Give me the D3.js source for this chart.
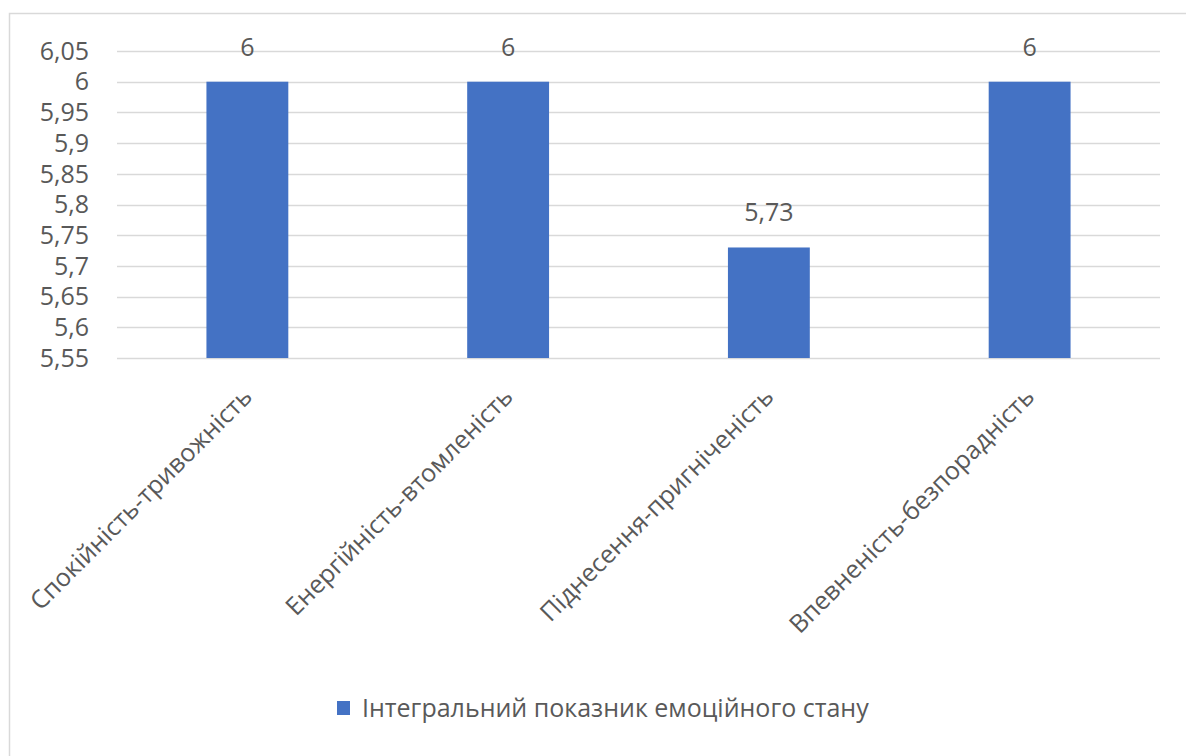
<!DOCTYPE html>
<html>
<head>
<meta charset="utf-8">
<script src="https://cdn.jsdelivr.net/npm/d3@7"></script>
<style>
  html, body { margin: 0; padding: 0; background: #fff; }
  svg { display: block; }
  text { font-family: "Open Sans", "Noto Sans", sans-serif; fill: #595959; }
</style>
</head>
<body>
<svg id="chart" width="1186" height="756"></svg>
<script>
// Emotional state scales and their integral indicator
const categories = [
  "Спокійність-тривожність",
  "Енергійність-втомленість",
  "Піднесення-пригніченість",
  "Впевненість-безпорадність"
];
const values = [6, 6, 5.73, 6];
const valueLabels = ["6", "6", "5,73", "6"];
const yTicks = [5.55, 5.6, 5.65, 5.7, 5.75, 5.8, 5.85, 5.9, 5.95, 6, 6.05];
const yTickLabels = ["5,55", "5,6", "5,65", "5,7", "5,75", "5,8", "5,85", "5,9", "5,95", "6", "6,05"];
const seriesName = "Інтегральний показник емоційного стану";

const svg = d3.select("#chart");
const margin = { left: 117, right: 1160, top: 51, bottom: 358 };
const barColor = "#4472C4";
const fontSize = 25;

// chart frame
svg.append("rect")
  .attr("x", 9.5).attr("y", 13.5)
  .attr("width", 1300).attr("height", 900)
  .attr("fill", "none").attr("stroke", "#D9D9D9").attr("stroke-width", 1.5);

const x = d3.scaleBand()
  .domain(categories)
  .range([margin.left, margin.right])
  .paddingInner(0.686).paddingOuter(0.343);

const y = d3.scaleLinear()
  .domain([5.55, 6.05])
  .range([margin.bottom, margin.top]);

// horizontal gridlines
svg.append("g")
  .selectAll("line")
  .data(yTicks)
  .join("line")
  .attr("x1", margin.left).attr("x2", margin.right)
  .attr("y1", d => Math.round(y(d)) + 0.5).attr("y2", d => Math.round(y(d)) + 0.5)
  .attr("stroke", "#D9D9D9").attr("stroke-width", 1.5);

// y axis labels
const yAxis = d3.axisLeft(y)
  .tickValues(yTicks)
  .tickFormat((d, i) => yTickLabels[i])
  .tickSize(0).tickPadding(0);
const gy = svg.append("g")
  .attr("transform", `translate(${margin.left - 28},0)`)
  .call(yAxis);
gy.select(".domain").remove();
gy.selectAll("text")
  .attr("font-size", fontSize)
  .attr("font-family", null)
  .attr("fill", "#595959")
  .attr("dy", "0.33em");

// bars
svg.append("g")
  .selectAll("rect")
  .data(values)
  .join("rect")
  .attr("x", (d, i) => x(categories[i]))
  .attr("width", x.bandwidth())
  .attr("y", d => y(d))
  .attr("height", d => y(5.55) - y(d))
  .attr("fill", barColor);

// value labels
svg.append("g")
  .selectAll("text")
  .data(values)
  .join("text")
  .attr("x", (d, i) => x(categories[i]) + x.bandwidth() / 2)
  .attr("y", d => y(d) - 26)
  .attr("text-anchor", "middle")
  .attr("font-size", fontSize)
  .text((d, i) => valueLabels[i]);

// rotated category labels
svg.append("g")
  .selectAll("text")
  .data(categories)
  .join("text")
  .attr("transform", d => `translate(${x(d) + x.bandwidth() / 2 - 6},${386}) rotate(-45)`)
  .attr("text-anchor", "end")
  .attr("dy", "0.7em")
  .attr("font-size", fontSize)
  .text(d => d);

// legend
const legend = svg.append("g").attr("transform", "translate(337,701)");
legend.append("rect")
  .attr("width", 13).attr("height", 14)
  .attr("fill", barColor);
legend.append("text")
  .attr("x", 25).attr("y", 7)
  .attr("dy", "0.36em")
  .attr("font-size", fontSize)
  .text(seriesName);
</script>
</body>
</html>
